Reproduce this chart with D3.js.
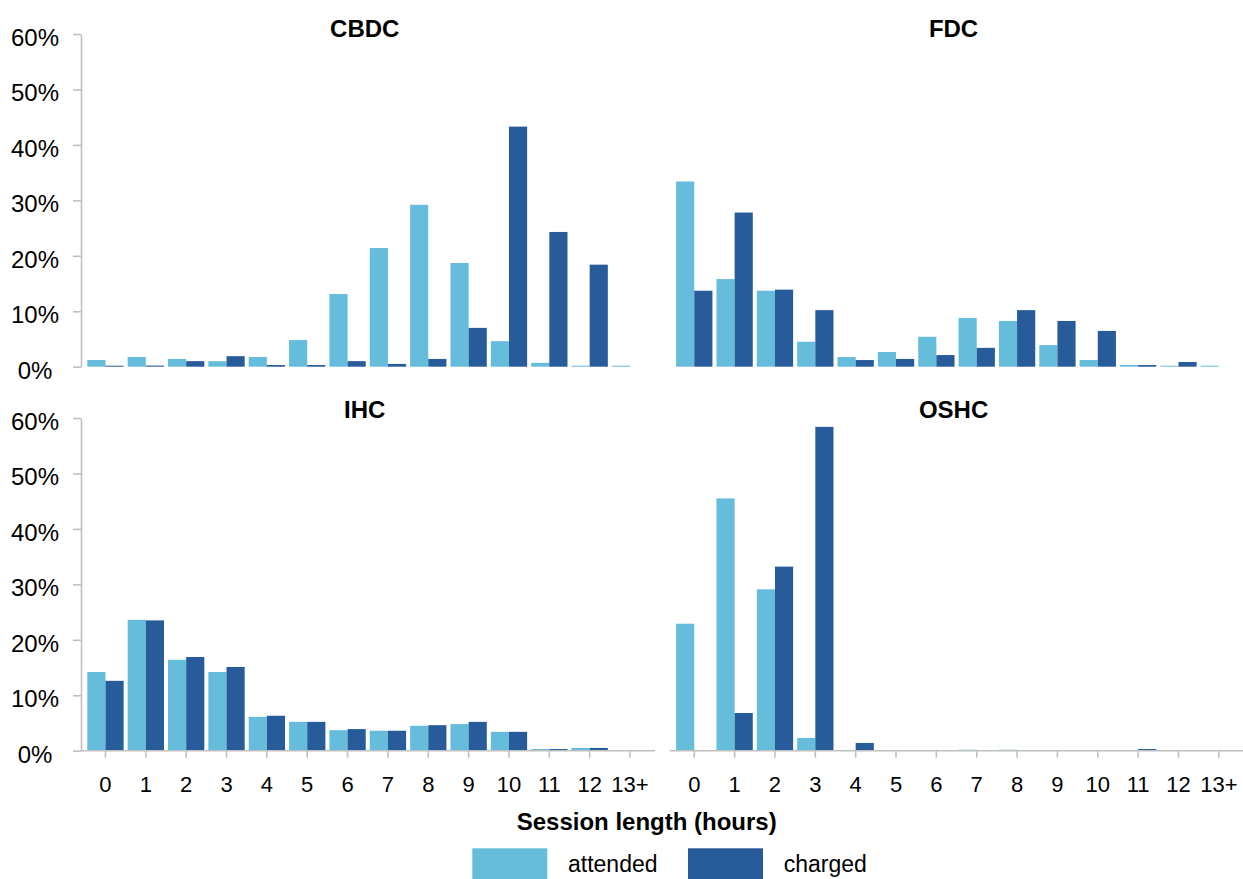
<!DOCTYPE html>
<html>
<head>
<meta charset="utf-8">
<script src="https://cdn.jsdelivr.net/npm/d3@7"></script>
<style>
	body { margin: 0; background: #fff; }
	svg { display: block; font-family: 'Liberation Sans', Arial, sans-serif; }
</style>
</head>
<body>
<div id="viz"></div>
<script>
// categories + series
const HOURS = ['0', '1', '2', '3', '4', '5', '6', '7', '8', '9', '10', '11', '12', '13+'];
const SERIES = ['attended', 'charged'];
const Y_TICKS = [0, 0.1, 0.2, 0.3, 0.4, 0.5, 0.6];

// share of sessions (%)
const CBDC_ATTENDED = [1.2, 1.75, 1.4, 1.0, 1.75, 4.8, 13.1, 21.4, 29.2, 18.7, 4.6, 0.7, 0.15, 0.1];
const CBDC_CHARGED  = [0.1, 0.2, 1.0, 1.9, 0.3, 0.3, 1.0, 0.5, 1.4, 7.0, 43.3, 24.3, 18.4, 0];
const FDC_ATTENDED  = [33.4, 15.8, 13.7, 4.5, 1.75, 2.65, 5.4, 8.8, 8.25, 3.9, 1.2, 0.3, 0.1, 0.05];
const FDC_CHARGED   = [13.7, 27.8, 13.9, 10.2, 1.2, 1.4, 2.1, 3.4, 10.2, 8.25, 6.45, 0.3, 0.85, 0];
const IHC_ATTENDED  = [14.2, 23.6, 16.4, 14.2, 6.1, 5.2, 3.7, 3.6, 4.5, 4.8, 3.4, 0.3, 0.5, 0];
const IHC_CHARGED   = [12.6, 23.5, 16.9, 15.1, 6.3, 5.2, 3.9, 3.6, 4.6, 5.2, 3.4, 0.3, 0.5, 0];
const OSHC_ATTENDED = [22.9, 45.5, 29.1, 2.3, 0, 0, 0, 0.05, 0.05, 0, 0, 0, 0, 0];
const OSHC_CHARGED  = [0, 6.8, 33.2, 58.4, 1.4, 0, 0, 0, 0, 0, 0, 0.3, 0, 0];

const PANELS = [
	{ name: 'CBDC', col: 0, row: 0, attended: CBDC_ATTENDED, charged: CBDC_CHARGED },
	{ name: 'FDC', col: 1, row: 0, attended: FDC_ATTENDED, charged: FDC_CHARGED },
	{ name: 'IHC', col: 0, row: 1, attended: IHC_ATTENDED, charged: IHC_CHARGED },
	{ name: 'OSHC', col: 1, row: 1, attended: OSHC_ATTENDED, charged: OSHC_CHARGED }
];

const WIDTH = 1243, HEIGHT = 879;
const COLS = [[85.3, 650.2], [674.1, 1239]];
const ROWS = [[366.7, 34], [750.7, 418]];
const COLORS = { attended: '#66bcdb', charged: '#275b9a' };
const GREY = '#c0c0c0';

const svg = d3.select('#viz').append('svg')
	.attr('width', WIDTH)
	.attr('height', HEIGHT);

PANELS.forEach((p) => {
	const xScale = d3.scaleBand()
		.domain(HOURS)
		.range(COLS[p.col])
		.paddingInner(0.1)
		.paddingOuter(0.05);

	const sScale = d3.scaleBand()
		.domain(SERIES)
		.range([0, xScale.bandwidth()]);

	const yScale = d3.scaleLinear()
		.domain([0, 0.6])
		.range(ROWS[p.row]);

	const g = svg.append('g').attr('class', 'panel panel-' + p.name);

	const rows = HOURS.map((h, i) => ({ hour: h, attended: p.attended[i] / 100, charged: p.charged[i] / 100 }));

	// bars
	g.append('g').selectAll('.hour')
		.data(rows)
		.enter()
		.append('g')
		.attr('class', 'hour')
		.attr('transform', (d) => 'translate(' + xScale(d.hour) + ',0)')
		.selectAll('rect')
		.data((d) => SERIES.map((s) => ({ key: s, value: d[s] })))
		.enter()
		.filter((d) => d.value > 0)
		.append('rect')
		.attr('x', (d) => sScale(d.key))
		.attr('width', sScale.bandwidth())
		.attr('y', (d) => Math.min(yScale(d.value), yScale(0) - 1))
		.attr('height', (d) => Math.max(1, yScale(0) - yScale(d.value)))
		.attr('fill', (d) => COLORS[d.key]);

	// y axis on the left column only
	if (p.col === 0) {
		const yAxis = g.append('g')
			.attr('class', 'y axis')
			.attr('transform', 'translate(' + (COLS[0][0] - 4.3) + ',0)')
			.call(d3.axisLeft(yScale).tickValues(Y_TICKS).tickFormat(d3.format('.0%')).tickSize(8).tickSizeOuter(0));
		yAxis.select('.domain').attr('stroke', GREY).attr('stroke-width', 1.6);
		yAxis.selectAll('.tick line').attr('stroke', GREY).attr('stroke-width', 1.6);
		yAxis.selectAll('.tick text')
			.attr('x', 35 - (COLS[0][0] - 4.3))
			.attr('dy', '0.48em')
			.attr('text-anchor', 'middle')
			.attr('fill', '#000')
			.style('font-size', '24px');
	}

	// x axis on the bottom row only
	if (p.row === 1) {
		const y0 = yScale(0);
		g.append('line')
			.attr('x1', COLS[p.col][0] - 4.3)
			.attr('x2', COLS[p.col][1] + 5)
			.attr('y1', y0)
			.attr('y2', y0)
			.attr('stroke', GREY)
			.attr('stroke-width', 1.6);

		const xAxis = g.append('g')
			.attr('class', 'x axis')
			.attr('transform', 'translate(0,' + y0 + ')')
			.call(d3.axisBottom(xScale).tickSize(7).tickSizeOuter(0));
		xAxis.select('.domain').remove();
		xAxis.selectAll('.tick line').attr('stroke', GREY).attr('stroke-width', 1.6);
		xAxis.selectAll('.tick text')
			.attr('y', 41.6)
			.attr('dy', 0)
			.attr('fill', '#000')
			.style('font-size', '22px');
	}

	// panel title
	g.append('text')
		.attr('x', (COLS[p.col][0] + COLS[p.col][1]) / 2 - 3)
		.attr('y', p.row === 0 ? ROWS[0][1] + 2.7 : ROWS[1][1])
		.attr('text-anchor', 'middle')
		.style('font-size', '24px')
		.style('font-weight', 'bold')
		.text(p.name);
});

svg.append('text')
	.attr('x', 646.7)
	.attr('y', 830)
	.attr('text-anchor', 'middle')
	.style('font-size', '24px')
	.style('font-weight', 'bold')
	.text('Session length (hours)');

// legend
const LEGEND_X = [472.3, 688];
const legend = svg.append('g').attr('class', 'legend');
SERIES.forEach((s, i) => {
	legend.append('rect')
		.attr('x', LEGEND_X[i])
		.attr('y', 848.3)
		.attr('width', 75)
		.attr('height', 40)
		.attr('fill', COLORS[s]);
	legend.append('text')
		.attr('x', LEGEND_X[i] + 95.7)
		.attr('y', 872)
		.style('font-size', '23px')
		.text(s);
});
</script>
</body>
</html>
